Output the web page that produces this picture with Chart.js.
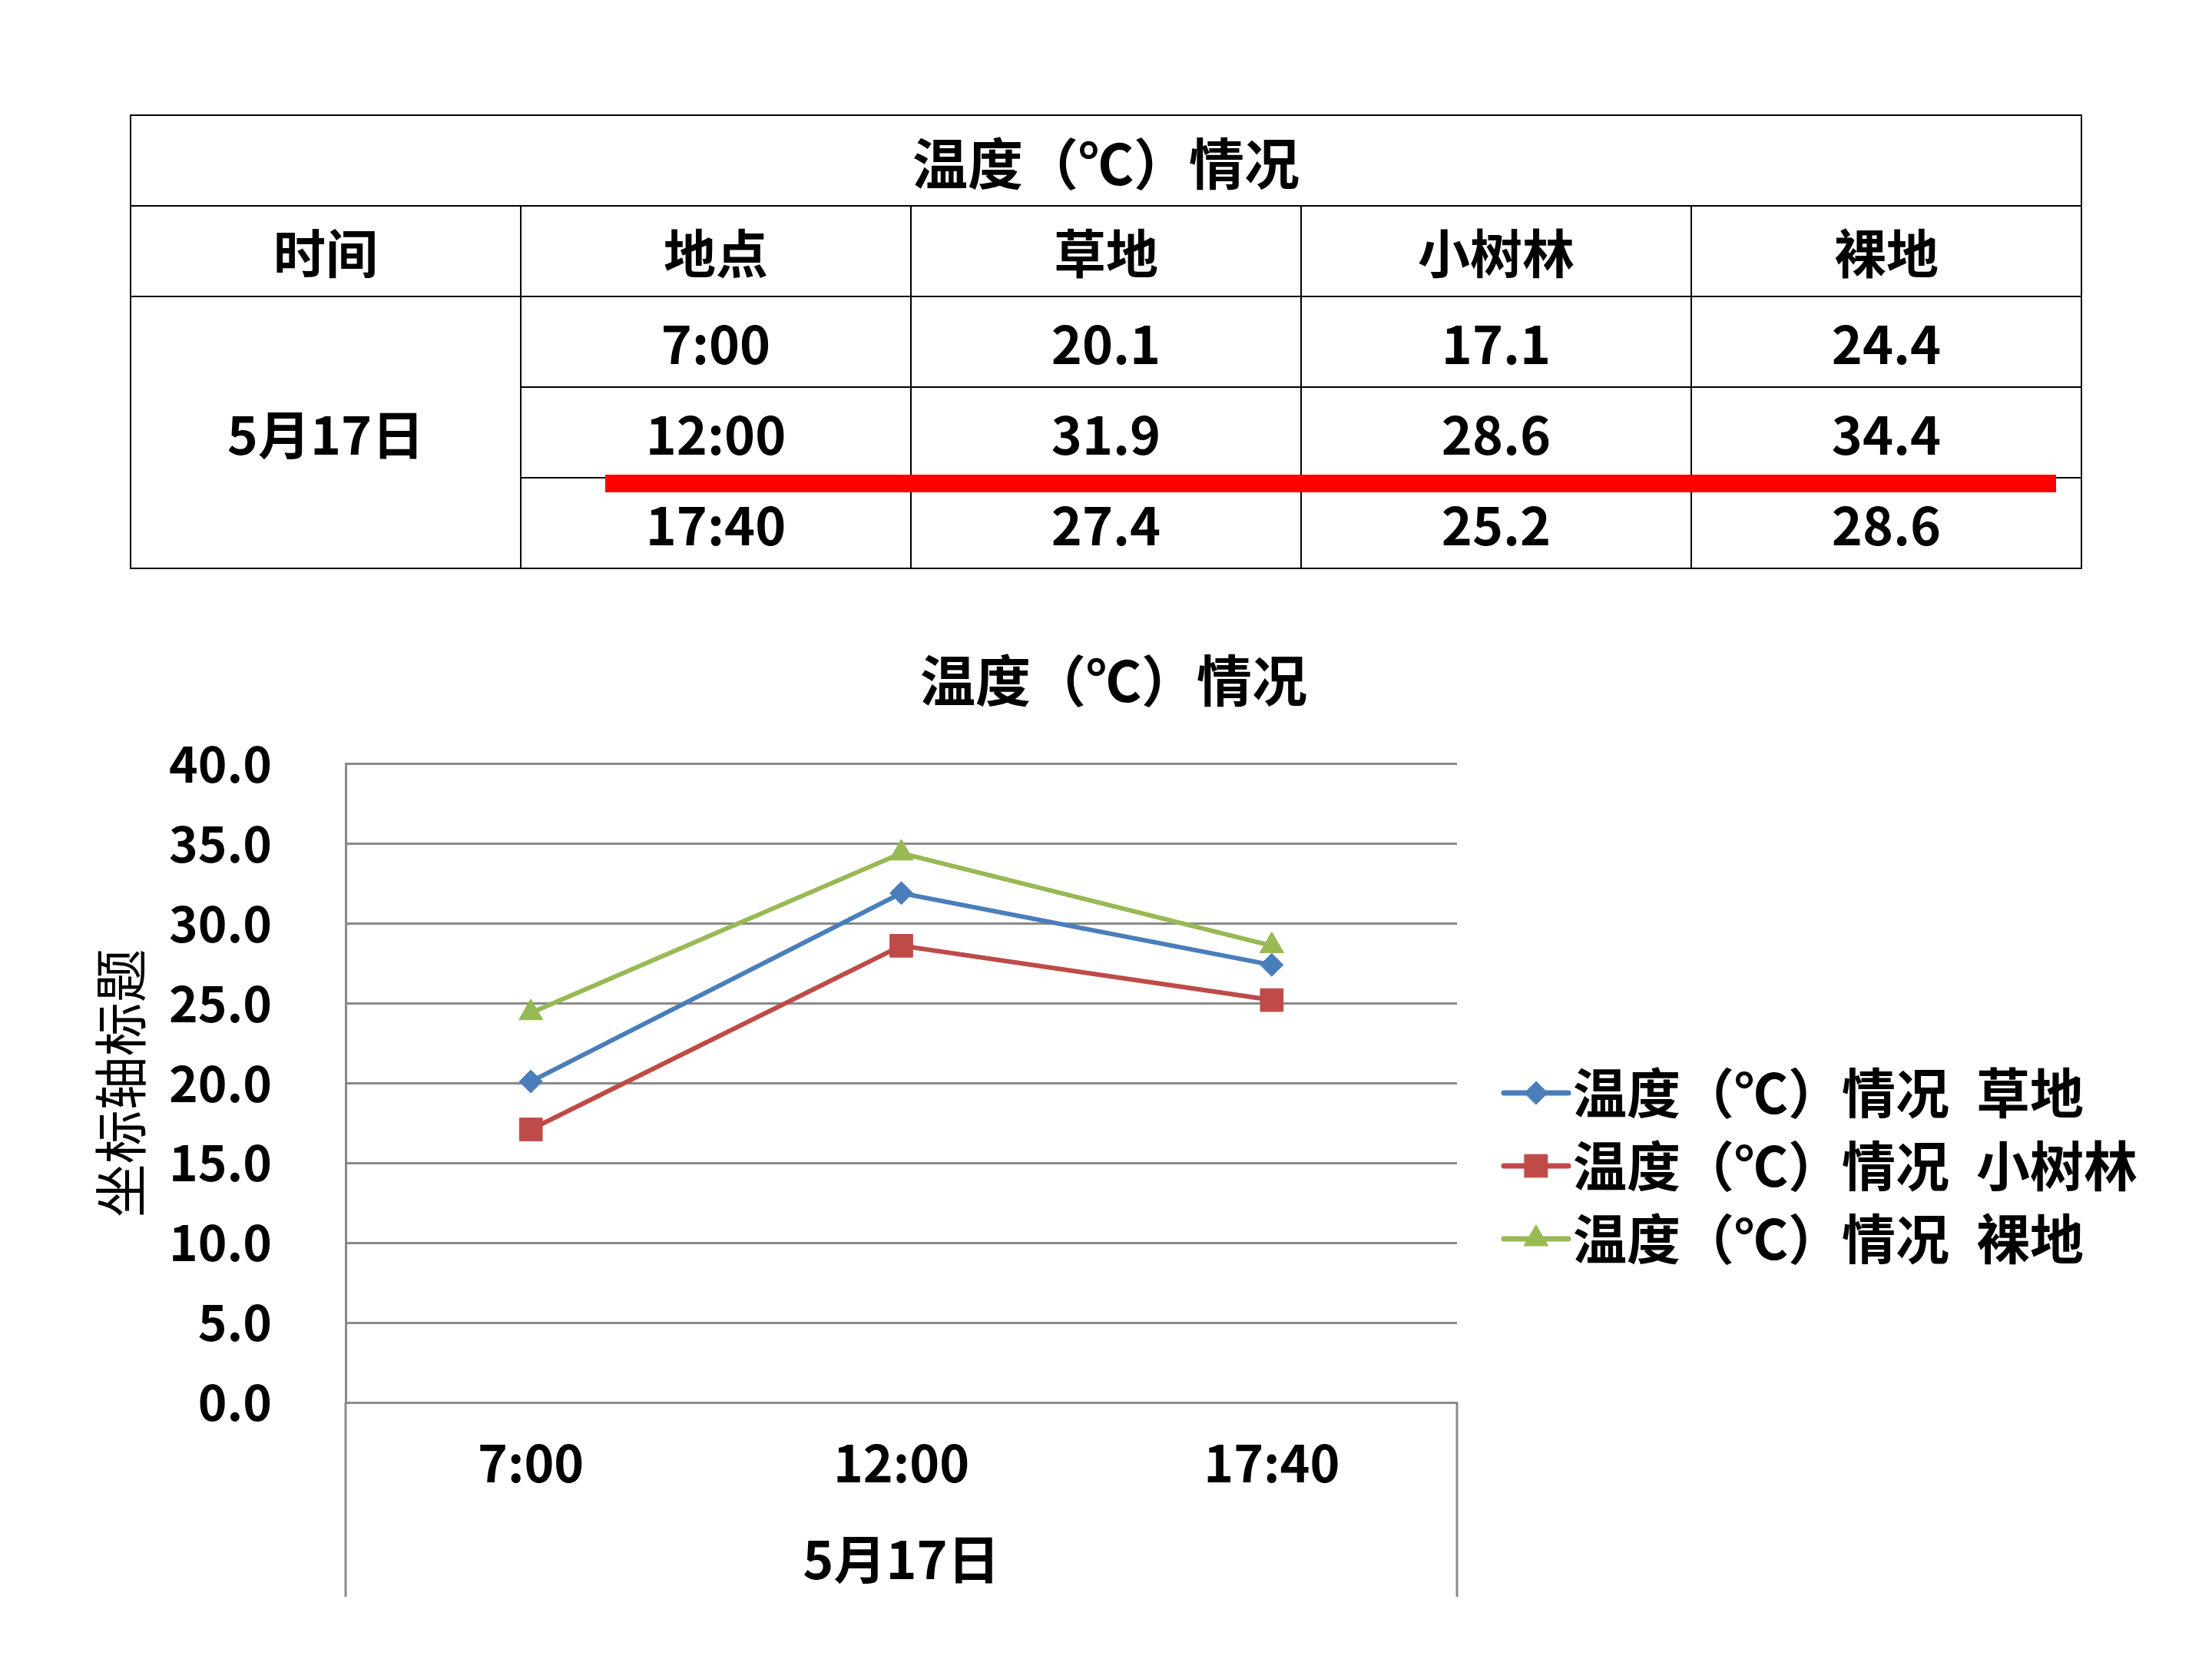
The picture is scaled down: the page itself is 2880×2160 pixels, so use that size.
<!DOCTYPE html>
<html lang="zh-CN">
<head>
<meta charset="utf-8">
<title>温度（℃）情况</title>
<script src="https://cdn.jsdelivr.net/npm/chart.js@4.4.1/dist/chart.umd.min.js"></script>
<style>
  html, body { margin: 0; padding: 0; background: #fff; }
  body {
    position: relative; width: 2880px; height: 2160px; overflow: hidden;
    font-family: "Noto Sans CJK SC", "Noto Sans", sans-serif;
  }
  #chartCanvas { position: absolute; left: 0; top: 0; width: 2880px; height: 2160px; }
  #dataTable {
    position: absolute; left: 169px; top: 149px; width: 2542px;
    border-collapse: collapse; table-layout: fixed; z-index: 2;
  }
  #dataTable tr { height: 118px; }
  #dataTable td {
    border: 2px solid #000; padding: 0; line-height: 1;
    text-align: center; vertical-align: middle;
    font-weight: bold; font-size: 68px; color: #000;
  }
  #dataTable tr.title td { font-size: 72px; }
  #strike {
    position: absolute; left: 788px; top: 618px; width: 1889px; height: 23px;
    background: #ff0000; z-index: 3;
  }
</style>
</head>
<body>
<table id="dataTable"></table>
<div id="strike"></div>
<canvas id="chartCanvas" width="2880" height="2160"></canvas>

<script>
// ---------- data ----------
const chartTitleText = "温度（℃）情况";
const yAxisTitle = "坐标轴标题";
const dateLabel = "5月17日";
const tableHeaders = ["时间", "地点"];
const timeLabels = ["7:00", "12:00", "17:40"];
const siteNames = ["草地", "小树林", "裸地"];
const grassTemps = [20.1, 31.9, 27.4];
const groveTemps = [17.1, 28.6, 25.2];
const bareTemps = [24.4, 34.4, 28.6];
const yTickValues = [0, 5, 10, 15, 20, 25, 30, 35, 40];

// ---------- styles ----------
const seriesColors = ["#4a7ebb", "#be4b48", "#98b954"];
const seriesPoints = ["rectRot", "rect", "triangle"];
const seriesRadius = [15, 21, 18];
const gridGray = "#8a8a8a";
const FONT = '"Noto Sans CJK SC", "Noto Sans", sans-serif';

function $id(id) {
  return document.getElementById(id);
}

// ---------- table ----------
function buildTable() {
  const table = $id("dataTable");
  const allTemps = [grassTemps, groveTemps, bareTemps];
  const nCols = tableHeaders.length + siteNames.length;
  let html = "<colgroup>" + "<col>".repeat(nCols) + "</colgroup>";
  html += `<tr class="title"><td colspan="${nCols}">${chartTitleText}</td></tr>`;
  html += "<tr>" + tableHeaders.concat(siteNames).map(h => `<td>${h}</td>`).join("") + "</tr>";
  timeLabels.forEach((t, r) => {
    html += "<tr>";
    if (r === 0) html += `<td rowspan="${timeLabels.length}">${dateLabel}</td>`;
    html += `<td>${t}</td>`;
    allTemps.forEach(s => { html += `<td>${s[r].toFixed(1)}</td>`; });
    html += "</tr>";
  });
  table.innerHTML = html;
}

// ---------- plugins ----------
// axis lines of the (date) category level reach below the plot
const axisExtend = {
  id: "axisExtend",
  afterDraw(chart, args, opts) {
    const { ctx, chartArea: a } = chart;
    ctx.save();
    ctx.strokeStyle = opts.color;
    ctx.lineWidth = opts.width;
    ctx.beginPath();
    ctx.moveTo(a.left, a.bottom);
    ctx.lineTo(a.left, a.bottom + opts.length);
    ctx.moveTo(a.right, a.bottom);
    ctx.lineTo(a.right, a.bottom + opts.length);
    ctx.stroke();
    ctx.restore();
  }
};

// legend with line + marker, to the right of the plot
const sideLegend = {
  id: "sideLegend",
  afterDraw(chart, args, opts) {
    const { ctx, chartArea: a } = chart;
    const helpers = Chart.helpers || {};
    chart.data.datasets.forEach((ds, i) => {
      const y = opts.top + i * opts.rowGap;
      const x0 = a.right + opts.offset;
      const x1 = x0 + opts.lineLen;
      ctx.save();
      ctx.strokeStyle = ds.borderColor;
      ctx.lineWidth = opts.lineWidth;
      ctx.lineCap = "round";
      ctx.beginPath();
      ctx.moveTo(x0, y);
      ctx.lineTo(x1, y);
      ctx.stroke();

      ctx.fillStyle = ds.pointBackgroundColor;
      ctx.strokeStyle = ds.pointBorderColor;
      ctx.lineWidth = 1;
      if (helpers.drawPoint) {
        helpers.drawPoint(ctx, { pointStyle: ds.pointStyle, radius: ds.pointRadius, rotation: 0, borderWidth: 1 }, (x0 + x1) / 2, y);
      }

      ctx.fillStyle = "#000";
      ctx.font = `bold ${opts.fontSize}px ${FONT}`;
      ctx.textAlign = "left";
      ctx.textBaseline = "middle";
      ctx.fillText(ds.label, x1 + opts.gap, y);
      ctx.restore();
    });
  }
};

// ---------- chart ----------
function renderChart() {
  const series = [grassTemps, groveTemps, bareTemps];
  const datasets = series.map((vals, i) => ({
    label: chartTitleText + "\u2002" + siteNames[i],
    data: vals,
    borderColor: seriesColors[i],
    backgroundColor: seriesColors[i],
    borderWidth: 6,
    pointStyle: seriesPoints[i],
    pointRadius: seriesRadius[i],
    pointBackgroundColor: seriesColors[i],
    pointBorderColor: seriesColors[i],
    pointBorderWidth: 1,
    tension: 0,
    fill: false
  }));

  new Chart($id("chartCanvas"), {
    type: "line",
    data: { labels: timeLabels, datasets },
    plugins: [axisExtend, sideLegend],
    options: {
      responsive: false,
      animation: false,
      devicePixelRatio: 1,
      layout: { padding: { left: 60, right: 40, top: 760, bottom: 0 } },
      plugins: {
        legend: { display: false },
        tooltip: { enabled: false },
        title: {
          display: true,
          text: chartTitleText,
          color: "#000",
          font: { family: FONT, size: 72, weight: "bold" },
          padding: { top: 82, bottom: 66 }
        },
        axisExtend: { color: gridGray, width: 3, length: 253 },
        sideLegend: { top: 1423, rowGap: 95, offset: 61, lineLen: 84, lineWidth: 7, gap: 6, fontSize: 70 }
      },
      scales: {
        x: {
          type: "category",
          offset: true,
          grid: { display: false, drawTicks: false },
          border: { display: true, color: gridGray, width: 3 },
          ticks: { color: "#000", padding: 39, font: { family: FONT, size: 66, weight: "bold" } },
          title: {
            display: true,
            text: dateLabel,
            color: "#000",
            font: { family: FONT, size: 68, weight: "bold" },
            padding: { top: 0, bottom: 89 }
          },
          afterFit: s => { s.height = 334; }
        },
        y: {
          type: "linear",
          position: "left",
          min: 0,
          max: 40,
          afterBuildTicks: s => { s.ticks = yTickValues.map(v => ({ value: v })); },
          grid: { color: gridGray, lineWidth: 3, drawTicks: false },
          border: { display: true, color: gridGray, width: 3 },
          ticks: {
            color: "#000",
            padding: 96,
            font: { family: FONT, size: 64, weight: "bold" },
            callback: v => Number(v).toFixed(1)
          },
          title: {
            display: true,
            text: yAxisTitle,
            color: "#000",
            font: { family: FONT, size: 70, weight: "normal" },
            padding: { top: 55, bottom: 0 }
          },
          afterFit: s => { s.width = 390; }
        },
        // empty right-hand box that leaves room for the legend
        legendSpace: {
          type: "linear",
          position: "right",
          display: true,
          grid: { display: false },
          border: { display: false },
          ticks: { display: false },
          afterFit: s => { s.width = 943; }
        }
      }
    }
  });
}

document.addEventListener("DOMContentLoaded", () => {
  buildTable();
  renderChart();
});
</script>
</body>
</html>
